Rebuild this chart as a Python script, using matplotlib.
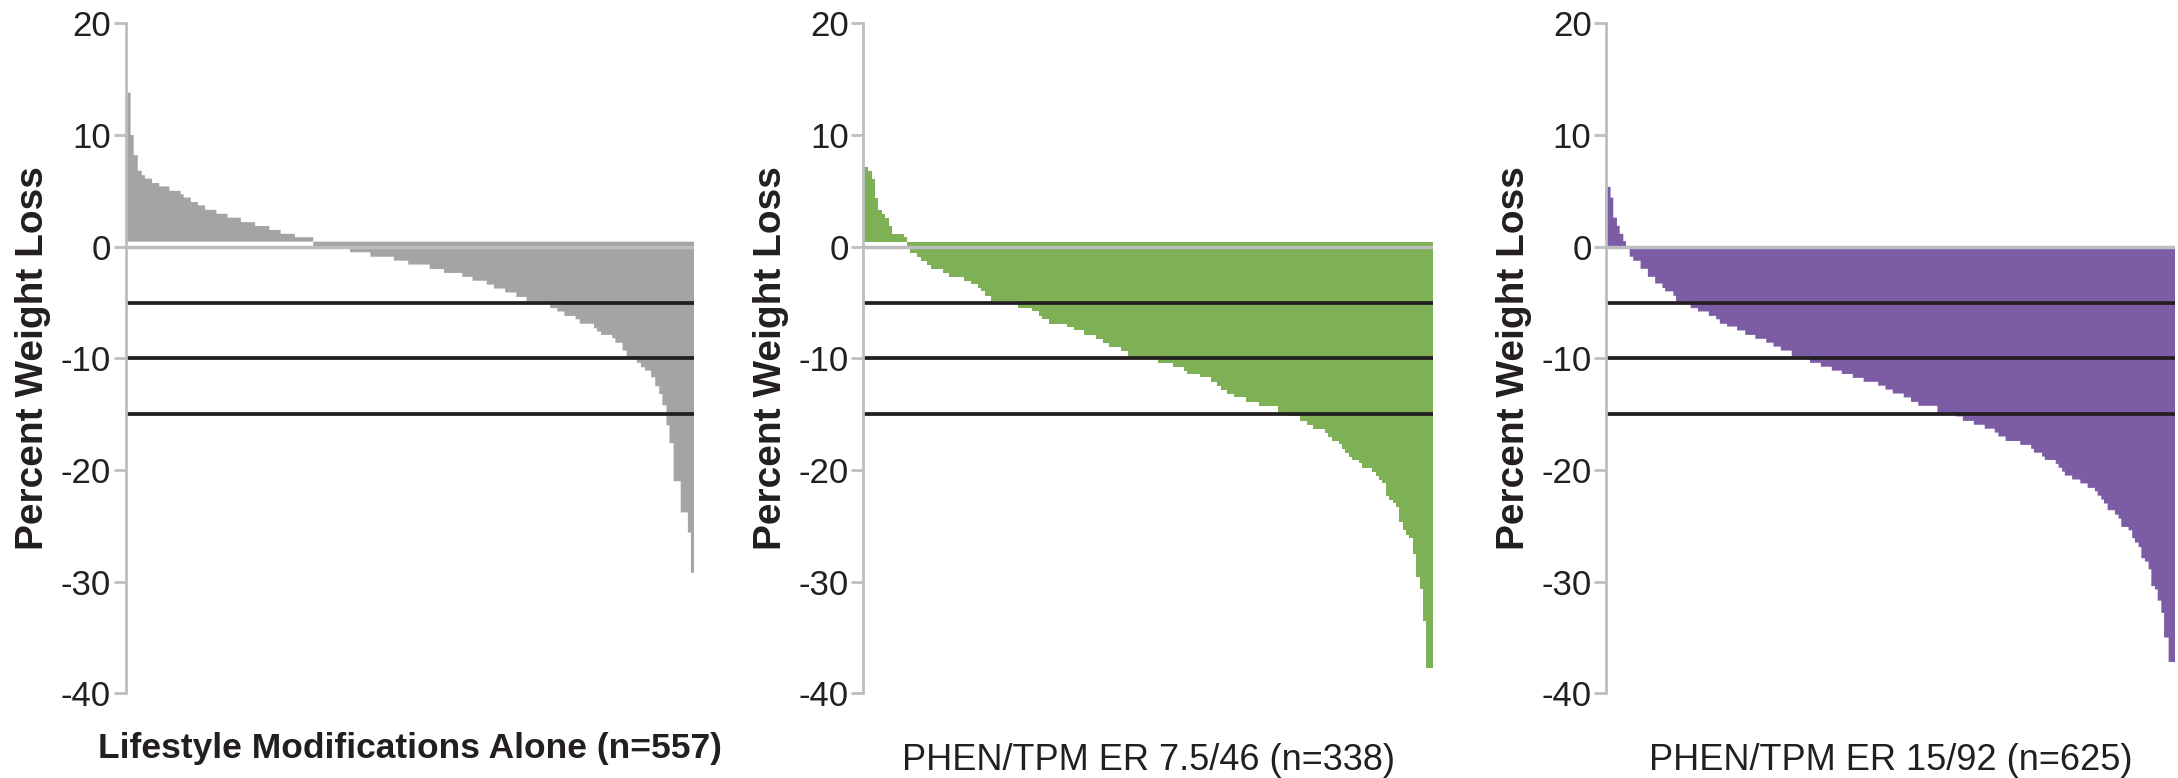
import numpy as np
import matplotlib
matplotlib.use("Agg")
import matplotlib.pyplot as plt

plt.rcParams['font.family'] = ['Liberation Sans', 'DejaVu Sans']
plt.rcParams['axes.unicode_minus'] = False

# ---- data: sorted percent weight change per patient, stored as (level, patient count) runs ----
lifestyle_levels = [13.8, 10.0, 8.2, 6.8, 6.4, 6.1, 5.7, 5.4, 5.0, 4.7, 4.4, 4.0, 3.7, 3.3, 2.95,
                    2.6, 2.2, 1.85, 1.5, 1.15, 0.85, 0.0, -0.5, -0.9, -1.25, -1.6, -2.0, -2.35,
                    -2.7, -3.05, -3.4, -3.75, -4.1, -4.5, -4.9, -5.5, -5.8, -6.2, -6.5, -6.9,
                    -7.3, -7.6, -7.9, -8.2, -8.6, -9.3, -10.0, -10.4, -10.8, -11.1, -11.7,
                    -12.5, -13.2, -14.2, -16.0, -17.6, -21.0, -23.8, -25.6, -29.2]
lifestyle_counts = [5, 3, 4, 4, 3, 7, 7, 10, 11, 3, 7, 7, 7, 11, 11,
                    13, 14, 14, 11, 14, 18, 36, 20, 23, 14, 21, 14, 18,
                    10, 14, 7, 11, 11, 10, 23, 7, 7, 11, 4, 14,
                    3, 4, 11, 3, 7, 4, 10, 4, 4, 6, 4,
                    4, 3, 4, 3, 4, 7, 7, 3, 3]

mid_levels = [7.15, 6.8, 6.1, 4.4, 3.3, 2.95, 2.6, 1.87, 1.15, 0.9, 0.0, -0.55, -0.9, -1.25,
              -1.6, -2.0, -2.35, -2.7, -3.05, -3.3, -3.7, -4.0, -4.4, -4.9, -5.5, -5.8, -6.2,
              -6.5, -6.9, -7.2, -7.5, -7.9, -8.25, -8.6, -8.95, -9.3, -9.9, -10.4, -10.75,
              -11.1, -11.4, -11.7, -12.1, -12.45, -12.8, -13.2, -13.5, -13.9, -14.25, -14.9,
              -15.2, -15.6, -15.95, -16.3, -16.7, -17.0, -17.4, -17.7, -18.1, -18.45, -18.8,
              -19.1, -19.4, -19.8, -20.2, -20.5, -20.9, -21.2, -22.3, -22.7, -23.0, -23.3,
              -24.7, -25.4, -25.8, -26.1, -27.5, -29.6, -30.7, -33.5, -37.7]
mid_counts = [3, 2, 2, 2, 2, 2, 2, 2, 7, 2, 2, 4, 2, 4,
              2, 7, 4, 9, 4, 4, 2, 2, 4, 16, 8, 4, 2,
              4, 11, 4, 6, 7, 4, 4, 7, 4, 18, 9, 6,
              2, 8, 6, 4, 2, 4, 4, 7, 8, 11, 6,
              7, 4, 4, 7, 2, 2, 4, 2, 2, 2, 2,
              4, 2, 6, 2, 2, 2, 2, 2, 2, 2, 2,
              2, 2, 2, 2, 2, 2, 2, 2, 4]

top_levels = [5.35, 4.4, 2.6, 1.87, 1.15, 0.5, 0.0, -0.9, -1.26, -1.98, -2.7, -3.3, -3.7, -4.0,
              -4.4, -4.9, -5.5, -5.8, -6.2, -6.5, -6.9, -7.15, -7.5, -7.9, -8.25, -8.6, -8.95,
              -9.3, -9.9, -10.4, -10.75, -11.1, -11.4, -11.75, -12.1, -12.45, -12.8, -13.15,
              -13.5, -13.9, -14.25, -14.9, -15.2, -15.6, -15.95, -16.3, -16.65, -17.0, -17.4,
              -17.75, -18.1, -18.45, -18.8, -19.1, -19.45, -19.8, -20.15, -20.5, -20.85, -21.2,
              -21.6, -21.9, -22.3, -22.65, -23.0, -23.6, -24.0, -24.35, -25.1, -25.4, -26.1,
              -26.5, -26.9, -27.9, -28.2, -28.9, -30.4, -30.7, -31.7, -32.8, -35.0, -37.2]
top_counts = [5, 3, 4, 3, 4, 3, 4, 4, 8, 8, 8, 8, 3, 9,
              3, 16, 8, 12, 8, 4, 8, 11, 9, 11, 12, 8, 8,
              12, 20, 12, 12, 11, 12, 12, 16, 8, 8, 12,
              8, 8, 21, 20, 8, 12, 12, 11, 4, 8, 16,
              12, 3, 9, 3, 12, 3, 4, 3, 8, 9, 8,
              8, 3, 4, 3, 4, 8, 4, 3, 8, 4, 3,
              4, 3, 4, 4, 3, 4, 3, 4, 3, 5, 7]

group_labels = ["Lifestyle Modifications Alone (n=557)",
                "PHEN/TPM ER 7.5/46 (n=338)",
                "PHEN/TPM ER 15/92 (n=625)"]
thresholds = [-5, -10, -15]
y_ticks = [20, 10, 0, -10, -20, -30, -40]

AXIS_GREY = '#bbbdbf'
INK = '#231f20'
colors = ['#a4a4a4', '#7eb155', '#7d5ca6']
baselines = [0.45, 0.45, 0.0]

W, H = 2178, 778
fig = plt.figure(figsize=(W / 100, H / 100), dpi=100)

# panel extents in pixels: (left, right)
panel_px = [(125.5, 694.0), (863.3, 1433.0), (1606.0, 2175.0)]
top_px, bottom_px = 23.4, 693.3
label_base_px = [758, 770, 770]
label_styles = [dict(fontsize=25.5, fontweight='bold'),
                dict(fontsize=26, fontweight='normal'),
                dict(fontsize=26, fontweight='normal')]

series = [(lifestyle_levels, lifestyle_counts),
          (mid_levels, mid_counts),
          (top_levels, top_counts)]

for i, ((levels, counts), (lp, rp)) in enumerate(zip(series, panel_px)):
    ax = fig.add_axes([lp / W, (H - bottom_px) / H, (rp - lp) / W, (bottom_px - top_px) / H])
    values = np.repeat(np.array(levels), np.array(counts))
    n = len(values)
    edges = np.arange(n + 1)
    ax.stairs(values, edges, baseline=baselines[i], fill=True, color=colors[i],
              linewidth=0, zorder=1)

    ax.axhline(0, color=AXIS_GREY, lw=2.5, zorder=3)
    for t in thresholds:
        ax.axhline(t, color=INK, lw=2.7, zorder=4)

    ax.set_xlim(0, n)
    ax.set_ylim(-40, 20)
    ax.set_yticks(y_ticks)
    ax.set_yticklabels([str(t) for t in y_ticks])
    ax.set_xticks([])
    for side in ('top', 'right', 'bottom'):
        ax.spines[side].set_visible(False)
    ax.spines['left'].set_color(AXIS_GREY)
    ax.spines['left'].set_linewidth(2.0)
    ax.spines['left'].set_zorder(5)
    ax.tick_params(axis='y', direction='out', length=8.6, width=2.0, color=AXIS_GREY,
                   labelsize=25, labelcolor=INK, pad=1.8)
    ax.patch.set_visible(False)

    cy = (top_px + bottom_px) / 2
    fig.text((lp - 92) / W, 1 - cy / H, "Percent Weight Loss", rotation=90,
             ha='center', va='center', fontsize=28, fontweight='bold', color=INK)
    fig.text(((lp + rp) / 2) / W, 1 - label_base_px[i] / H, group_labels[i],
             ha='center', va='baseline', color=INK, **label_styles[i])

fig.savefig("out.png", dpi=100, facecolor='white')
